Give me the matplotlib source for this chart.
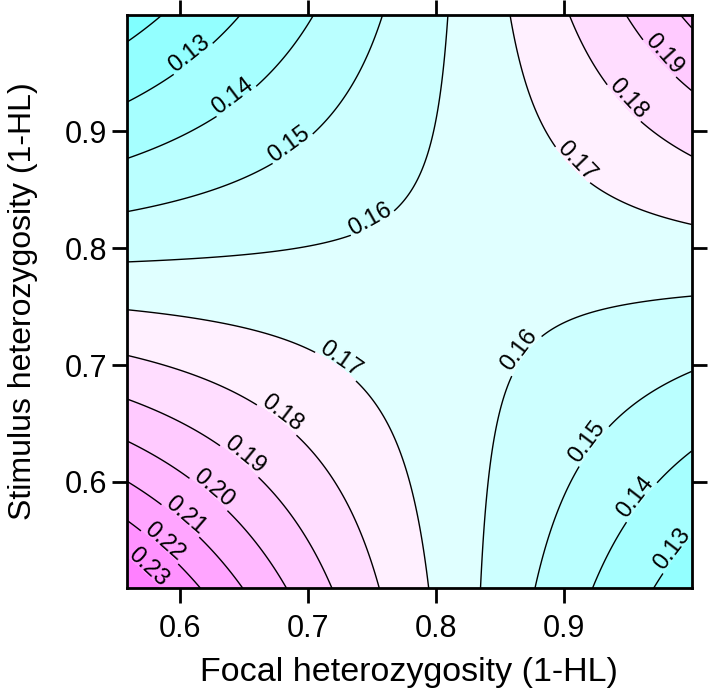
import numpy as np
import colorsys
import matplotlib
matplotlib.use("Agg")
import matplotlib.pyplot as plt
from matplotlib.transforms import ScaledTranslation

plt.rcParams['font.family'] = ['Liberation Sans', 'DejaVu Sans']

# logistic surface: logit(p) = b0 + bF*F + bS*S + bFS*F*S
b0 = 2.648
b_focal = -5.205
b_stim = -5.518
b_inter = 6.702

focal_range = [0.5586, 1.0]
stim_range = [0.5089, 1.0]

fill_levels = [0.11, 0.12, 0.13, 0.14, 0.15, 0.16, 0.17,
               0.18, 0.19, 0.20, 0.21, 0.22, 0.23, 0.24]
label_levels = [0.13, 0.14, 0.15, 0.16, 0.17, 0.18, 0.19, 0.20, 0.21, 0.22, 0.23]
unlabelled_levels = [0.12]

xticks = [0.6, 0.7, 0.8, 0.9]
yticks = [0.6, 0.7, 0.8, 0.9]

# cyan below 0.17, magenta above (cm.colors style, saturation per band)
cyan_sat = np.linspace(0.5, 0.12, 6)
magenta_sat = np.linspace(0.06, 0.5, 7)
band_colors = ([colorsys.hsv_to_rgb(6 / 12, s, 1.0) for s in cyan_sat] +
               [colorsys.hsv_to_rgb(10 / 12, s, 1.0) for s in magenta_sat])

fx = np.linspace(focal_range[0], focal_range[1], 300)
sy = np.linspace(stim_range[0], stim_range[1], 300)
F, S = np.meshgrid(fx, sy)
eta = b0 + b_focal * F + b_stim * S + b_inter * F * S
P = 1.0 / (1.0 + np.exp(-eta))

fig = plt.figure(figsize=(7.09, 6.96), dpi=100)
ax = fig.add_axes([0.1791, 0.1547, 0.7965, 0.8242])

ax.contourf(F, S, P, levels=fill_levels, colors=band_colors)
ax.contour(F, S, P, levels=unlabelled_levels, colors='black', linewidths=1.0)
cs = ax.contour(F, S, P, levels=label_levels, colors='black', linewidths=1.0)

# where the labels sit on each line
label_pos = [(0.6052, 0.9693), (0.6377, 0.9350), (0.6812, 0.8956), (0.7431, 0.8365),
             (0.9070, 0.8714), (0.9479, 0.9251), (0.9760, 0.9637),
             (0.7306, 0.7129), (0.6825, 0.6629), (0.6525, 0.6257), (0.6291, 0.5980),
             (0.6070, 0.5751), (0.5909, 0.5523), (0.5771, 0.5295),
             (0.8680, 0.7100), (0.9187, 0.6343), (0.9544, 0.5880), (0.9831, 0.5438)]
labels = ax.clabel(cs, fmt='%.2f', fontsize=17, inline=True,
                   inline_spacing=2, manual=label_pos)

# labels sit a little above their line, as in the original
for t in labels:
    a = np.deg2rad(t.get_rotation())
    shift = 0.07
    t.set_transform(t.get_transform() +
                    ScaledTranslation(-np.sin(a) * shift, np.cos(a) * shift,
                                      fig.dpi_scale_trans))

ax.set_xlim(focal_range)
ax.set_ylim(stim_range)
ax.set_xticks(xticks)
ax.set_yticks(yticks)
ax.set_xticklabels(['%.1f' % t for t in xticks])
ax.set_yticklabels(['%.1f' % t for t in yticks])
ax.tick_params(direction='out', length=10.5, width=2, labelsize=22,
               top=True, right=True)
ax.tick_params(axis='x', pad=8)
ax.tick_params(axis='y', pad=4)
for sp in ax.spines.values():
    sp.set_linewidth(2)

ax.set_xlabel('Focal heterozygosity (1-HL)', fontsize=24.5, labelpad=9)
ax.set_ylabel('Stimulus heterozygosity (1-HL)', fontsize=23, labelpad=19)

plt.savefig('out.png', dpi=100)
